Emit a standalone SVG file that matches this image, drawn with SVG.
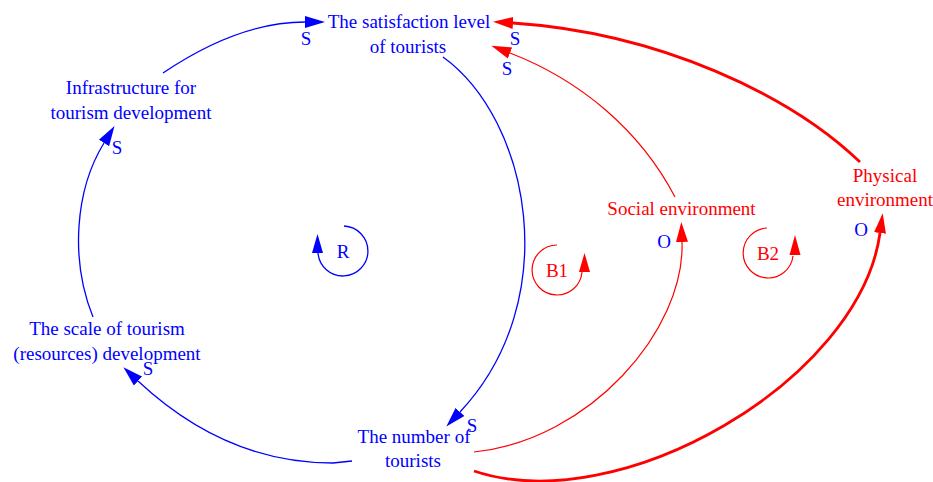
<svg xmlns="http://www.w3.org/2000/svg" width="933" height="482" viewBox="0 0 933 482">
<style>
text{font-family:"Liberation Serif","Times New Roman",serif;font-size:19px;text-anchor:middle}
.b{fill:#0000FF}
.r{fill:#FF0000}
.lb{fill:none;stroke:#0000FF;stroke-width:1.3}
.lr{fill:none;stroke:#FF0000;stroke-width:1.2}
.lR{fill:none;stroke:#FF0000;stroke-width:2.8}
</style>
<defs>
<marker id="ab" markerUnits="userSpaceOnUse" markerWidth="22" markerHeight="14" viewBox="0 -7 22 14" refX="0" refY="0" orient="auto"><path d="M0,-6 L20,0 L0,6 z" fill="#0000FF"/></marker>
<marker id="ar" markerUnits="userSpaceOnUse" markerWidth="22" markerHeight="14" viewBox="0 -7 22 14" refX="0" refY="0" orient="auto"><path d="M0,-6 L20,0 L0,6 z" fill="#FF0000"/></marker>
</defs>
<g id="connectors">
<path class="lb" d="M163,73 C200,48 250,22 305,22" marker-end="url(#ab)"/>
<path class="lb" d="M93,317 C70,260 75,190 104,143" marker-end="url(#ab)"/>
<path class="lb" d="M352,461 L333,463 C250,463 185,425 138,381" marker-end="url(#ab)"/>
<path class="lb" d="M443,57 C530,120 565,300 460,412" marker-end="url(#ab)"/>
<path class="lr" d="M675,197 C640,130 580,80 510,53" marker-end="url(#ar)"/>
<path class="lR" d="M860,162 C790,95 660,33 513,23" marker-end="url(#ar)"/>
<path class="lr" d="M474,452 C590,440 685,330 682,242" marker-end="url(#ar)"/>
<path class="lR" d="M474,471 C620,520 860,380 880,233" marker-end="url(#ar)"/>
</g>
<g id="satisfaction"><text class="b" x="409" y="28">The satisfaction level</text><text class="b" x="408" y="53">of tourists</text></g>
<g id="infrastructure"><text class="b" x="131" y="94">Infrastructure for</text><text class="b" x="131" y="118.5">tourism development</text></g>
<g id="scale"><text class="b" x="107" y="335">The scale of tourism</text><text class="b" x="107" y="360">(resources) development</text></g>
<g id="number"><text class="b" x="414" y="443">The number of</text><text class="b" x="413" y="467">tourists</text></g>
<g id="social"><text class="r" x="681.5" y="215">Social environment</text></g>
<g id="physical"><text class="r" x="885" y="182">Physical</text><text class="r" x="885" y="206">environment</text></g>
<g id="polarities">
<text class="b" x="306" y="45">S</text>
<text class="b" x="117" y="154">S</text>
<text class="b" x="148" y="375">S</text>
<text class="b" x="472" y="432">S</text>
<text class="b" x="515" y="45">S</text>
<text class="b" x="507" y="75">S</text>
<text class="b" x="664" y="248">O</text>
<text class="b" x="861" y="236">O</text>
</g>
<g id="loop-R">
<path class="lb" d="M344,226 A25,25 0 1 1 318,253"/>
<polygon points="317.5,234 312,253 323,253" fill="#0000FF"/>
<text class="b" x="343" y="258">R</text>
</g>
<g id="loop-B1">
<path class="lr" d="M557,245 A25,25 0 1 0 582,272"/>
<polygon points="584.5,253 579,272 590,272" fill="#FF0000"/>
<text class="r" x="557" y="277">B1</text>
</g>
<g id="loop-B2">
<path class="lr" d="M767,228 A25,25 0 1 0 793,256"/>
<polygon points="795,235 789.5,255 800.5,255" fill="#FF0000"/>
<text class="r" x="768" y="260">B2</text>
</g>
</svg>
